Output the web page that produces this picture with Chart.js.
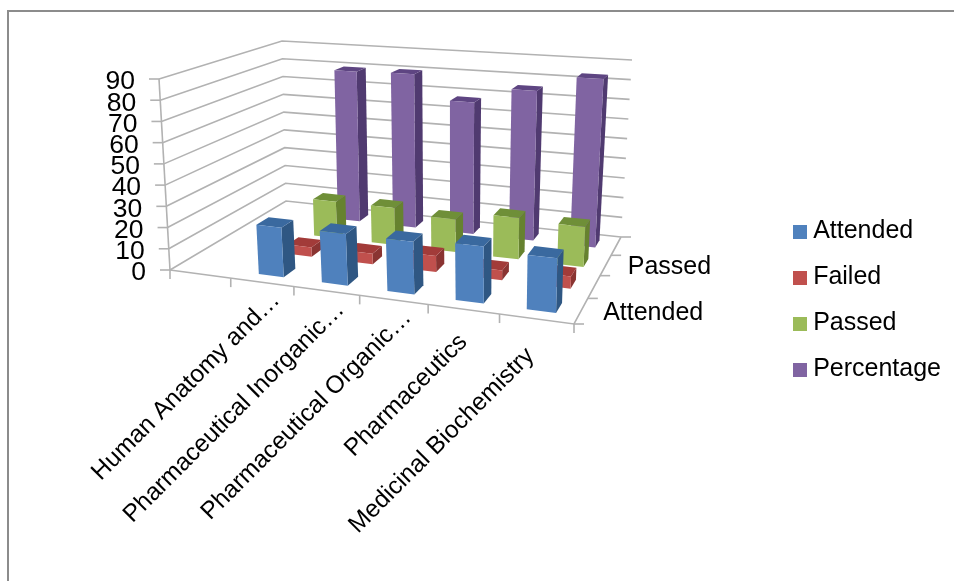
<!DOCTYPE html>
<html>
<head>
<meta charset="utf-8">
<style>
  html, body { margin:0; padding:0; background:#fff; overflow:hidden; }
  #wrap { position:relative; width:954px; height:581px; filter:blur(.6px); }
  #frame { position:absolute; left:7px; top:10px; width:960px; height:600px; border:2px solid #8c8c8c; }
  canvas { position:absolute; left:0; top:0; }
</style>
<script src="https://cdn.jsdelivr.net/npm/chart.js@4"></script>
</head>
<body>
<div id="wrap"><div id="frame"></div><canvas id="chart" width="954" height="581"></canvas></div>
<script>
// first category is blank in the source sheet, the bars start in the second slot
const categories  = ['', 'Human Anatomy and…', 'Pharmaceutical Inorganic…', 'Pharmaceutical Organic…', 'Pharmaceutics', 'Medicinal Biochemistry'];
const seriesNames = ['Attended', 'Failed', 'Passed', 'Percentage'];
const attended    = [null, 23, 23.5, 23.5, 25, 23.5];
const failed      = [null, 4.5, 5, 7.5, 4.5, 5.5];
const passed      = [null, 18.5, 18.5, 16, 20, 19];
const percentage  = [null, 79.5, 80, 67.5, 75.5, 83.5];
const yTickStep   = 10;
const yMax        = 90;

const faceColors = ['#4F81BD', '#C0504D', '#9BBB59', '#8064A2'];
const topColors  = ['#3A699F', '#A23B39', '#6F8F38', '#5E4582'];
const sideColors = ['#2F5783', '#8A3432', '#66822F', '#503A70'];
const gridColor  = '#b2b2b2';
const font       = "'Liberation Sans', Arial, sans-serif";

// corners of the box as the picture shows them: (cat, depth) = 00, 10, 11, 01
const floorQuad = [[170, 270], [574, 324], [621, 237], [286, 201]];
const topQuad   = [[159, 79], [581, 110], [632, 60], [282, 41]];

function quadMap(q) {
  const [[x0, y0], [x1, y1], [x2, y2], [x3, y3]] = q;
  const dx1 = x1 - x2, dx2 = x3 - x2, sx = x0 - x1 + x2 - x3;
  const dy1 = y1 - y2, dy2 = y3 - y2, sy = y0 - y1 + y2 - y3;
  const den = dx1 * dy2 - dx2 * dy1;
  const g = (sx * dy2 - dx2 * sy) / den, h = (dx1 * sy - sx * dy1) / den;
  const a = x1 - x0 + g * x1, b = x3 - x0 + h * x3;
  const d = y1 - y0 + g * y1, e = y3 - y0 + h * y3;
  return (u, v) => {
    const w = g * u + h * v + 1;
    return [(a * u + b * v + x0) / w, (d * u + e * v + y0) / w];
  };
}
const floorMap = quadMap(floorQuad);
const topMap   = quadMap(topQuad);

// library scales give the fractions, the box corners turn them into perspective
function project(chart, cat, ser, val) {
  const { x, y, depth } = chart.scales;
  const u = (x.getPixelForValue(cat) - x.left) / x.width;
  const d = (depth.getPixelForValue(ser) - depth.left) / depth.width;
  const v = (y.bottom - y.getPixelForValue(val)) / y.height;
  const f = floorMap(u, d), t = topMap(u, d);
  return [f[0] + (t[0] - f[0]) * v, f[1] + (t[1] - f[1]) * v];
}

function poly(ctx, pts, fill) {
  ctx.beginPath();
  pts.forEach((p, i) => i ? ctx.lineTo(p[0], p[1]) : ctx.moveTo(p[0], p[1]));
  ctx.closePath();
  ctx.fillStyle = fill;
  ctx.fill();
}

function stroke(ctx, pts) {
  ctx.beginPath();
  pts.forEach((p, i) => i ? ctx.lineTo(p[0], p[1]) : ctx.moveTo(p[0], p[1]));
  ctx.stroke();
}

function drawWalls(chart, ctx) {
  const last = categories.length - 0.5, back = seriesNames.length - 0.5;
  ctx.strokeStyle = gridColor;
  ctx.lineWidth = 1.6;
  chart.scales.y.ticks.forEach(t => {
    stroke(ctx, [project(chart, -0.5, -0.5, t.value), project(chart, -0.5, back, t.value), project(chart, last, back, t.value)]);
    const a = project(chart, -0.5, -0.5, t.value);
    stroke(ctx, [a, [a[0] - 10, a[1]]]);
  });
  stroke(ctx, [project(chart, -0.5, -0.5, 0), project(chart, -0.5, -0.5, yMax)]);
  stroke(ctx, [project(chart, -0.5, -0.5, 0), project(chart, last, -0.5, 0), project(chart, last, back, 0)]);
  for (let i = -0.5; i <= last; i++) {
    const a = project(chart, i, -0.5, 0);
    stroke(ctx, [a, [a[0], a[1] + 9]]);
  }
  for (let s = -0.5; s <= back; s++) {
    const a = project(chart, last, s, 0);
    stroke(ctx, [a, [a[0] + 10, a[1]]]);
  }
}

function drawBars(chart, ctx) {
  const half = 0.2; // gap width 150%
  for (let s = seriesNames.length - 1; s >= 0; s--) {
    chart.data.datasets[s].data.forEach((val, c) => {
      if (val === null) return;
      const fl = project(chart, c - half, s - half, 0), fr = project(chart, c + half, s - half, 0);
      const bl = project(chart, c - half, s + half, 0), br = project(chart, c + half, s + half, 0);
      const tfl = project(chart, c - half, s - half, val), tfr = project(chart, c + half, s - half, val);
      const tbl = project(chart, c - half, s + half, val), tbr = project(chart, c + half, s + half, val);
      poly(ctx, [fr, br, tbr, tfr], sideColors[s]);
      poly(ctx, [tfl, tfr, tbr, tbl], topColors[s]);
      poly(ctx, [fl, fr, tfr, tfl], faceColors[s]);
    });
  }
}

function drawLabels(chart, ctx) {
  const last = categories.length - 0.5;
  ctx.fillStyle = '#000';

  ctx.font = '26.5px ' + font;
  ctx.textAlign = 'right';
  ctx.textBaseline = 'middle';
  chart.scales.y.ticks.forEach(t => {
    const a = project(chart, -0.5, -0.5, t.value);
    ctx.fillText(t.label, a[0] - 24, a[1] + 3);
  });

  // truncated labels sit closer to their slot than the full ones
  const nudge = [null, [14, 14], [14, 15], [14, 14], [0, 29], [-6, 33]];
  ctx.font = '24.5px ' + font;
  categories.forEach((name, i) => {
    if (!name) return;
    const a = project(chart, i, -0.5, 0);
    ctx.save();
    ctx.translate(a[0] + nudge[i][0], a[1] + nudge[i][1]);
    ctx.rotate(-45 * Math.PI / 180);
    ctx.fillText(name, 0, 0);
    ctx.restore();
  });

  ctx.font = '25px ' + font;
  ctx.textAlign = 'left';
  seriesNames.forEach((name, s) => {
    if (s % 2) return; // series axis skips every other label
    const a = project(chart, last, s, 0);
    ctx.fillText(name, a[0] + 22, a[1] + 2);
  });
}

const box3d = {
  id: 'box3d',
  beforeDatasetsDraw(chart) {
    const ctx = chart.ctx;
    ctx.save();
    drawWalls(chart, ctx);
    drawBars(chart, ctx);
    drawLabels(chart, ctx);
    ctx.restore();
    return false; // plain 2D bars stay undrawn
  }
};

function swatch(color) {
  const s = document.createElement('canvas');
  s.width = s.height = 14;
  const g = s.getContext('2d');
  g.fillStyle = color;
  g.fillRect(0, 0, 14, 14);
  return s;
}

const seriesValues = [attended, failed, passed, percentage];

new Chart(document.getElementById('chart'), {
  type: 'bar',
  data: {
    labels: categories,
    datasets: seriesNames.map((name, i) => ({ label: name, data: seriesValues[i], backgroundColor: faceColors[i] }))
  },
  plugins: [box3d],
  options: {
    responsive: false,
    animation: false,
    layout: { padding: { right: 3, top: 20 } },
    plugins: {
      tooltip: { enabled: false },
      legend: {
        position: 'right',
        labels: {
          usePointStyle: true,
          boxWidth: 2,
          boxHeight: 14,
          padding: 21,
          color: '#000',
          font: { family: font, size: 25 },
          generateLabels: chart => chart.data.datasets.map((ds, i) => ({
            text: ds.label, datasetIndex: i, pointStyle: swatch(faceColors[i]), fontColor: '#000', lineWidth: 0
          }))
        }
      }
    },
    scales: {
      x: { display: false, offset: true },
      depth: { type: 'category', axis: 'x', display: false, offset: true, labels: seriesNames },
      y: { display: false, min: 0, max: yMax, ticks: { stepSize: yTickStep } }
    }
  }
});
</script>
</body>
</html>
